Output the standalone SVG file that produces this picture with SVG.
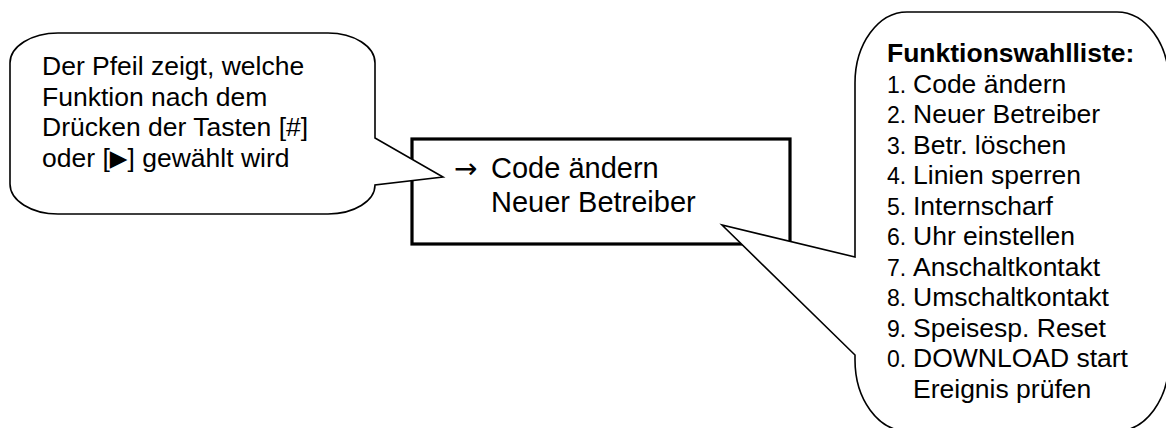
<svg xmlns="http://www.w3.org/2000/svg" width="1166" height="428" viewBox="0 0 1166 428">
<style>
.t{font-family:"Liberation Sans",Arial,"DejaVu Sans",sans-serif;font-size:26.5px;fill:#000}
.n{font-size:23px}
.b{font-weight:bold}
.big{font-size:29px}
.sym{font-family:"DejaVu Sans",sans-serif}
.callout{fill:#fff;stroke:#000;stroke-width:1.6;stroke-linejoin:miter}
</style>
<rect width="1166" height="428" fill="#fff"/>
<g id="display">
<rect x="412" y="139" width="378" height="105" fill="#fff" stroke="#000" stroke-width="3.2"/>
<text class="t big" y="178"><tspan class="sym" x="454" font-size="28px">→</tspan><tspan x="491">Code ändern</tspan></text>
<text class="t big" x="491" y="212">Neuer Betreiber</text>
</g>
<g id="callout-left">
<path class="callout" d="M58,33 H328 A47,30 0 0 1 375,63 V138 L443,177 L375,185 A47,29 0 0 1 328,214 H58 A48,30 0 0 1 10,184 V63 A48,30 0 0 1 58,33 Z"/>
<text class="t" x="42" y="75">Der Pfeil zeigt, welche</text>
<text class="t" x="42" y="105.5">Funktion nach dem</text>
<text class="t" x="42" y="136">Drücken der Tasten [#]</text>
<text class="t" x="42" y="166.5">oder [<tspan class="sym" font-size="23px" dy="-1">▶</tspan><tspan dy="1">] gewählt wird</tspan></text>
</g>
<g id="callout-right">
<path class="callout" d="M907,12 H1117 A52,71 0 0 1 1169,83 V360 A52,71 0 0 1 1117,431 H907 A52,71 0 0 1 855,360 V355 L722,225 L855,257 V83 A52,71 0 0 1 907,12 Z"/>
<text class="t b" x="887" y="62">Funktionswahlliste:</text>
<text class="t" y="92.5"><tspan class="n" x="887">1.</tspan><tspan x="913">Code ändern</tspan></text>
<text class="t" y="123"><tspan class="n" x="887">2.</tspan><tspan x="913">Neuer Betreiber</tspan></text>
<text class="t" y="153.5"><tspan class="n" x="887">3.</tspan><tspan x="913">Betr. löschen</tspan></text>
<text class="t" y="184"><tspan class="n" x="887">4.</tspan><tspan x="913">Linien sperren</tspan></text>
<text class="t" y="214.5"><tspan class="n" x="887">5.</tspan><tspan x="913">Internscharf</tspan></text>
<text class="t" y="245"><tspan class="n" x="887">6.</tspan><tspan x="913">Uhr einstellen</tspan></text>
<text class="t" y="275.5"><tspan class="n" x="887">7.</tspan><tspan x="913">Anschaltkontakt</tspan></text>
<text class="t" y="306"><tspan class="n" x="887">8.</tspan><tspan x="913">Umschaltkontakt</tspan></text>
<text class="t" y="336.5"><tspan class="n" x="887">9.</tspan><tspan x="913">Speisesp. Reset</tspan></text>
<text class="t" y="367"><tspan class="n" x="887">0.</tspan><tspan x="913">DOWNLOAD start</tspan></text>
<text class="t" x="913" y="397.5">Ereignis prüfen</text>
</g>
<g id="connectors"></g>
</svg>
